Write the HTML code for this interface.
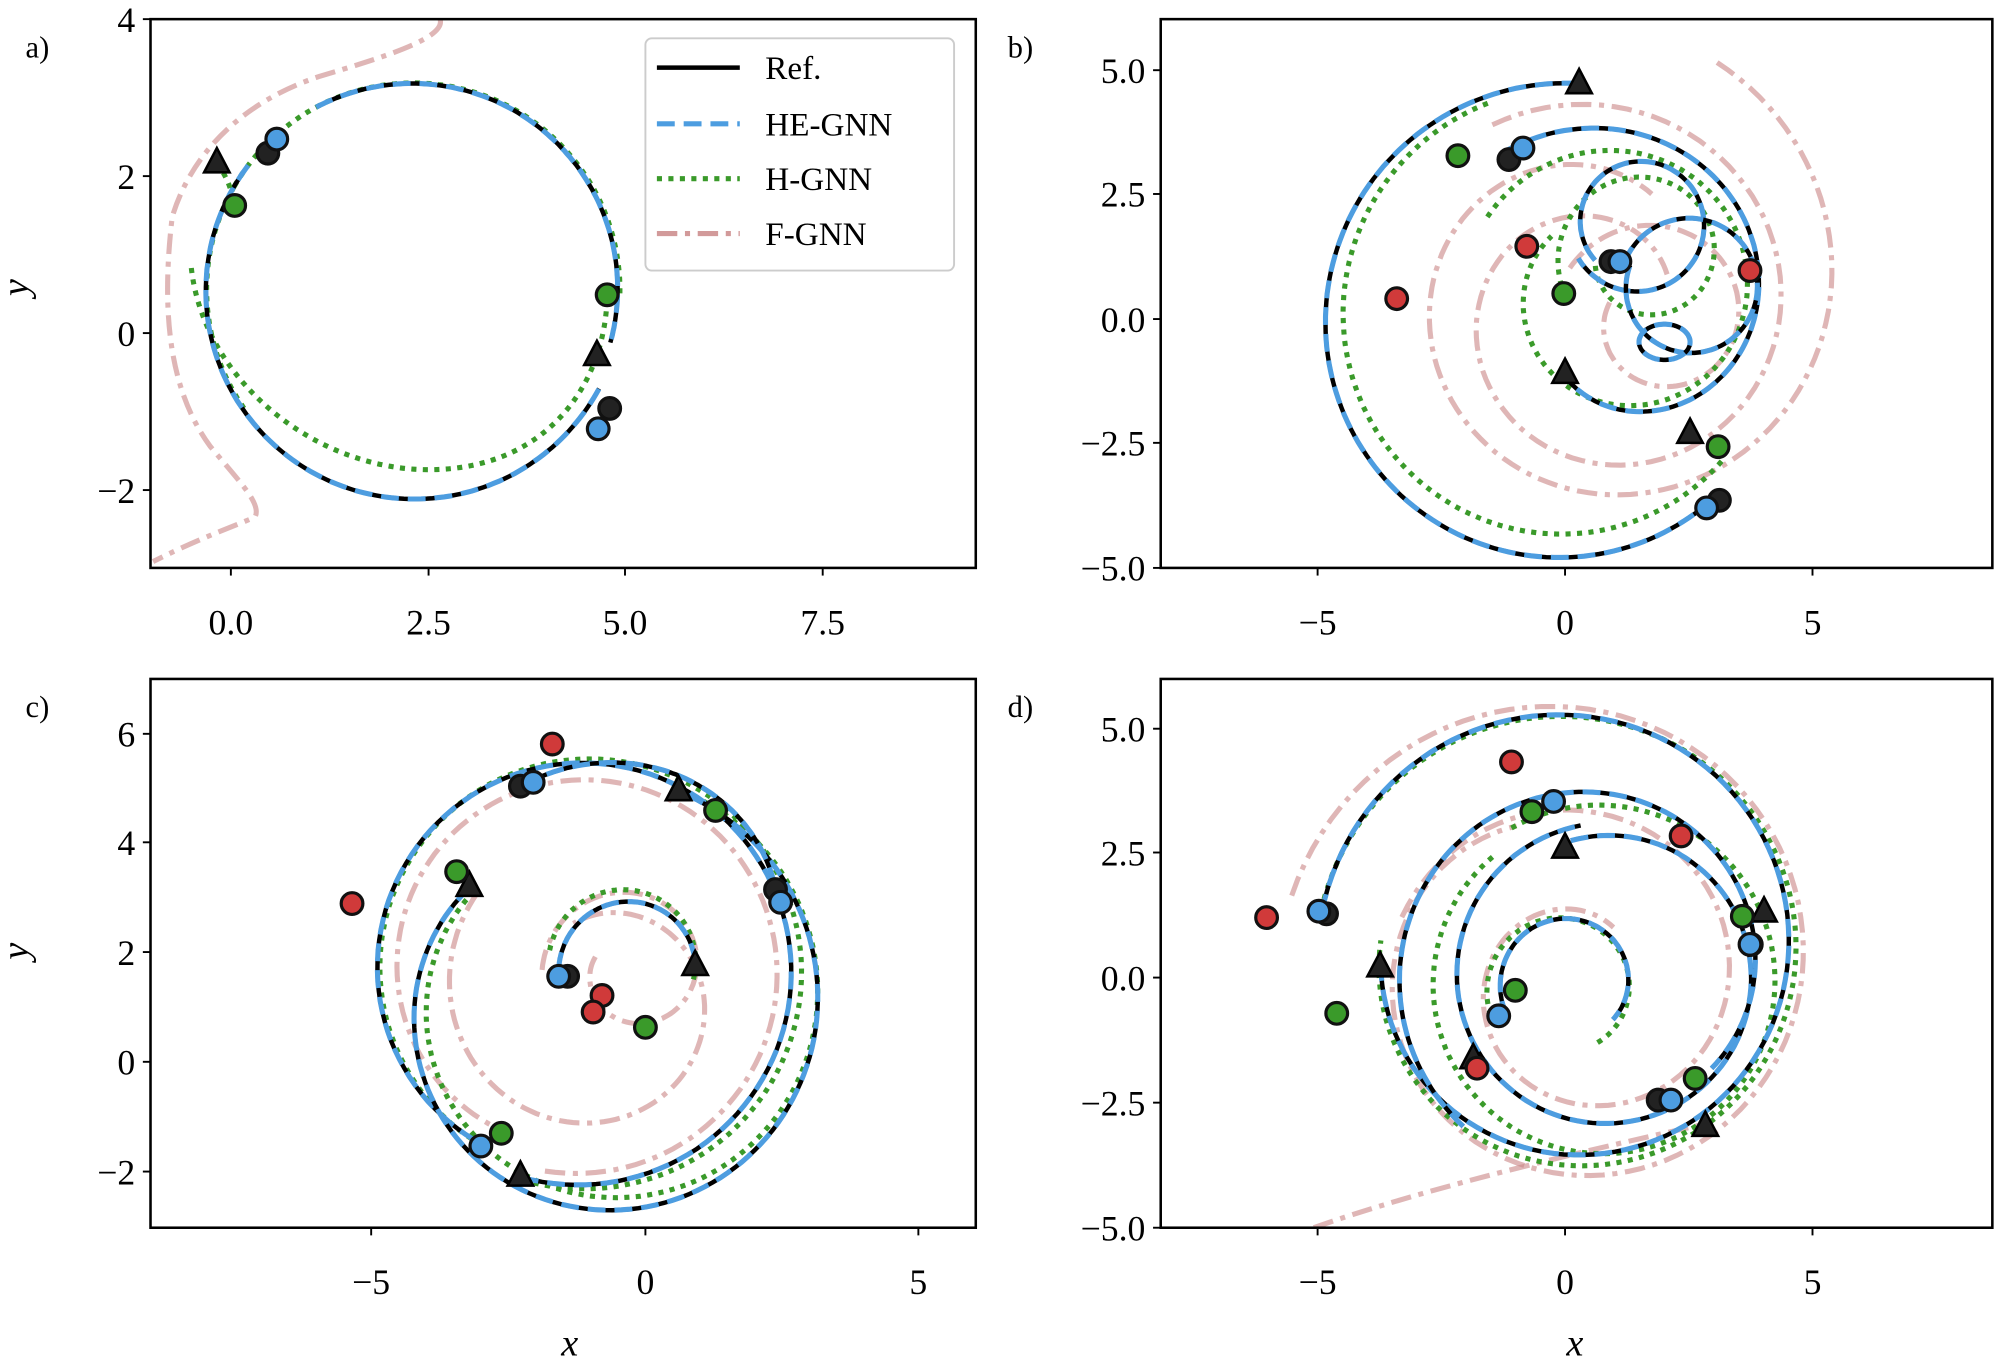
<!DOCTYPE html>
<html><head><meta charset="utf-8"><style>
html,body{margin:0;padding:0;background:#fff}
svg{display:block}
text{font-family:"Liberation Serif",serif;fill:#000}
</style></head><body>
<svg id="s" width="2000" height="1363" viewBox="0 0 1568 1068" preserveAspectRatio="none" xmlns="http://www.w3.org/2000/svg">
<defs>
<clipPath id="ca"><rect x="118" y="15" width="647" height="430"/></clipPath>
<clipPath id="cb"><rect x="910" y="15" width="652" height="430"/></clipPath>
<clipPath id="cc"><rect x="118" y="532" width="647" height="430"/></clipPath>
<clipPath id="cd"><rect x="910" y="532" width="652" height="430"/></clipPath>
</defs>
<g id="ga" clip-path="url(#ca)"></g>
<g id="gb" clip-path="url(#cb)"></g>
<g id="gc" clip-path="url(#cc)"></g>
<g id="gd" clip-path="url(#cd)"></g>
<g id="frames" fill="none" stroke="#000" stroke-width="2">
<rect x="118" y="15" width="647" height="430"/>
<rect x="910" y="15" width="652" height="430"/>
<rect x="118" y="532" width="647" height="430"/>
<rect x="910" y="532" width="652" height="430"/>
</g>
<g id="ticks" stroke="#000" stroke-width="1.5"></g>
<g id="labels" font-size="28"></g>
<rect x="506" y="30" width="242" height="182" rx="5" fill="#fff" fill-opacity="0.85" stroke="#ccc" stroke-width="1.5"/>
<line x1="515" y1="53" x2="580" y2="53" stroke="#000" stroke-width="3.5"/>
<line x1="515" y1="97" x2="580" y2="97" stroke="#4d9de0" stroke-width="4" stroke-dasharray="14 7"/>
<line x1="515" y1="140" x2="580" y2="140" stroke="#3a9a2a" stroke-width="4" stroke-dasharray="4 5"/>
<line x1="515" y1="183" x2="580" y2="183" stroke="#d29a9a" stroke-width="4" stroke-dasharray="16 6 4 6"/>
<text x="600" y="62" font-size="26">Ref.</text>
<text x="600" y="106" font-size="26">HE-GNN</text>
<text x="600" y="149" font-size="26">H-GNN</text>
<text x="600" y="192" font-size="26">F-GNN</text>
<text x="20" y="45" font-size="24">a)</text>
<text x="790" y="45" font-size="24">b)</text>
<text x="20" y="562" font-size="24">c)</text>
<text x="790" y="562" font-size="24">d)</text>
<text x="440" y="1062" font-size="30" font-style="italic">x</text>
<text x="1228" y="1062" font-size="30" font-style="italic">x</text>
<text x="0" y="0" font-size="30" font-style="italic" transform="translate(22,232) rotate(-90)">y</text>
<text x="0" y="0" font-size="30" font-style="italic" transform="translate(22,752) rotate(-90)">y</text>
</svg>
<script>
const NS="http://www.w3.org/2000/svg";
function el(p,t,a){const e=document.createElementNS(NS,t);for(const k in a)e.setAttribute(k,a[k]);p.appendChild(e);return e;}
function sp(cx,cy,r0,r1,a0,a1,sy){sy=sy||1;let d="";const n=120;for(let i=0;i<=n;i++){const t=i/n;const r=r0+(r1-r0)*t;const a=(a0+(a1-a0)*t)*Math.PI/180;const x=cx+r*Math.cos(a),y=cy-r*Math.sin(a)*sy;d+=(i?"L":"M")+x.toFixed(1)+","+y.toFixed(1);}return d;}
const ST={
 k:{stroke:"#000","stroke-width":3.5,fill:"none"},
 b:{stroke:"#4d9de0","stroke-width":4,fill:"none","stroke-dasharray":"14 7"},
 g:{stroke:"#3a9a2a","stroke-width":4,fill:"none","stroke-dasharray":"4 5"},
 p:{stroke:"#c98585","stroke-width":4,fill:"none","stroke-dasharray":"16 6 4 6","stroke-opacity":0.6}
};
function path(g,d,s){el(g,"path",Object.assign({d:d},ST[s]));}
function kb(g,d){path(g,d,"k");path(g,d,"b");}
function tri(g,x,y){el(g,"polygon",{points:`${x},${y-12} ${x-10},${y+7} ${x+10},${y+7}`,fill:"#222",stroke:"#000","stroke-width":2});}
const COL={k:"#222",b:"#4d9de0",r:"#d03a3a",g:"#3a9a2a"};
function circ(g,x,y,c){el(g,"circle",{cx:x,cy:y,r:8.5,fill:COL[c],stroke:"#111","stroke-width":2.5});}
// Panel a
let g=document.getElementById("ga");
path(g,"M345,15 C350,30 300,45 250,60 C190,80 150,120 135,170 C128,230 128,300 165,350 C190,380 205,395 200,405 C190,410 160,420 120,440",'p');
path(g,"M150,210 C160,300 250,370 340,368 C430,366 475,300 476,231",'g');
path(g,sp(324,227,162,162,150,-2),'g');
path(g,sp(324,227,162,162,150,215),'g');
kb(g,sp(324,227,162,165,143,332));
kb(g,sp(324,227,162,160,118,-15,1));
path(g,"M170,128 C178,138 182,150 184,161",'g');
tri(g,170,128);tri(g,468,279);
circ(g,210,120,'k');circ(g,217,109,'b');circ(g,184,161,'g');circ(g,476,231,'g');circ(g,478,320,'k');circ(g,469,336,'b');
// Panel b
g=document.getElementById("gb");
path(g,sp(1250,230,205,90,62,-300),'p');
path(g,sp(1255,245,170,60,120,-330),'p');
path(g,sp(1300,250,80,40,150,-200),'p');
path(g,sp(1228,250,180,165,110,318),'g');
path(g,sp(1270,230,120,70,150,-220),'g');
path(g,sp(1290,200,70,40,200,-170),'g');
kb(g,sp(1225,255,190,180,86,311));
kb(g,sp(1268,240,150,68,126,-129));
kb(g,sp(1285,175,45,55,220,-150));
kb(g,sp(1325,225,55,50,160,-200));
kb(g,sp(1305,268,20,20,0,360,0.7));
tri(g,1238,66);tri(g,1227,293);tri(g,1325,340);
circ(g,1183,125,'k');circ(g,1194,116,'b');circ(g,1263,205,'k');circ(g,1270,205,'b');
circ(g,1197,193,'r');circ(g,1095,234,'r');circ(g,1372,212,'r');
circ(g,1143,122,'g');circ(g,1226,230,'g');circ(g,1347,350,'g');
circ(g,1348,392,'k');circ(g,1338,398,'b');
// Panel c
g=document.getElementById("gc");
path(g,sp(455,760,160,140,-100,245),'p');
path(g,sp(470,780,125,60,140,470),'p');
path(g,sp(495,760,70,30,180,-200),'p');
path(g,sp(460,760,172,160,-104,243),'g');
path(g,sp(475,785,135,175,140,425),'g');
path(g,sp(490,755,60,55,170,-15),'g');
kb(g,sp(455,760,169,157,-106,241));
kb(g,sp(470,790,139,181,137,430));
kb(g,sp(495,760,57,50,180,0));
kb(g,sp(500,740,154,115,126,18));
tri(g,408,922);tri(g,368,695);tri(g,532,620);tri(g,545,757);
circ(g,408,616,'k');circ(g,418,613,'b');circ(g,445,765,'k');circ(g,438,765,'b');circ(g,608,697,'k');circ(g,612,707,'b');circ(g,377,898,'b');
circ(g,276,708,'r');circ(g,433,583,'r');circ(g,472,780,'r');circ(g,465,793,'r');
circ(g,358,683,'g');circ(g,561,635,'g');circ(g,506,805,'g');circ(g,393,888,'g');
// Panel d
g=document.getElementById("gd");
path(g,sp(1230,760,225,120,165,-250),'p');
path(g,sp(1240,770,150,50,160,-300),'p');
path(g,"M1030,962 C1120,930 1250,900 1340,880",'p');
path(g,sp(1232,750,200,150,172,-185),'g');
path(g,sp(1255,770,140,130,120,-230),'g');
path(g,sp(1225,775,60,50,200,-60),'g');
kb(g,sp(1230,745,196,148,171,-175));
kb(g,sp(1260,765,110,120,105,-260));
kb(g,sp(1230,770,55,45,210,-40));
kb(g,sp(1250,760,160,120,-130,-400));
tri(g,1227,665);tri(g,1082,758);tri(g,1155,830);tri(g,1337,883);tri(g,1383,715);
circ(g,1040,716,'k');circ(g,1034,714,'b');circ(g,1218,628,'b');circ(g,1175,796,'b');circ(g,1300,862,'k');circ(g,1310,862,'b');circ(g,1373,740,'k');circ(g,1372,740,'b');
circ(g,1185,597,'r');circ(g,993,719,'r');circ(g,1318,655,'r');circ(g,1158,837,'r');
circ(g,1201,636,'g');circ(g,1048,794,'g');circ(g,1188,776,'g');circ(g,1329,845,'g');circ(g,1366,718,'g');
// ticks & labels
const T=document.getElementById("ticks"),L=document.getElementById("labels");
function xt(xs,yb){xs.forEach(([x,s])=>{el(T,"line",{x1:x,y1:yb,x2:x,y2:yb+6});const t=el(L,"text",{x:x,y:yb+52,"text-anchor":"middle"});t.textContent=s;});}
function yt(ys,xl){ys.forEach(([y,s])=>{el(T,"line",{x1:xl,y1:y,x2:xl-6,y2:y});const t=el(L,"text",{x:xl-12,y:y+10,"text-anchor":"end"});t.textContent=s;});}
const m="\u2212";
xt([[181,"0.0"],[336,"2.5"],[490,"5.0"],[645,"7.5"]],445);
yt([[15,"4"],[138,"2"],[261,"0"],[384,m+"2"]],118);
xt([[1033,m+"5"],[1227,"0"],[1421,"5"]],445);
yt([[55,"5.0"],[152,"2.5"],[250,"0.0"],[347,m+"2.5"],[445,m+"5.0"]],910);
xt([[291,m+"5"],[506,"0"],[720,"5"]],962);
yt([[575,"6"],[660,"4"],[746,"2"],[832,"0"],[918,m+"2"]],118);
xt([[1033,m+"5"],[1227,"0"],[1421,"5"]],962);
yt([[571,"5.0"],[668,"2.5"],[766,"0.0"],[864,m+"2.5"],[962,m+"5.0"]],910);
</script>
</body></html>
